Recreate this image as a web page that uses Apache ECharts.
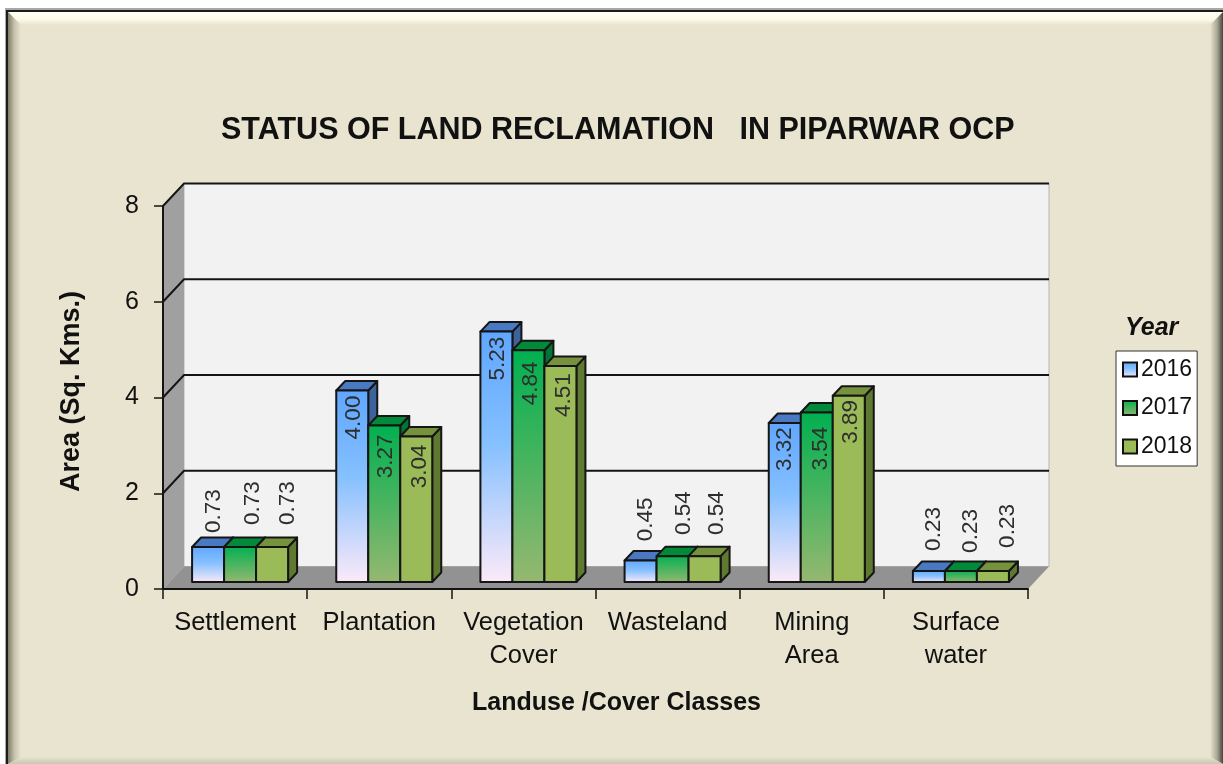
<!DOCTYPE html>
<html><head><meta charset="utf-8">
<style>html,body{margin:0;padding:0;background:#fff}#c{width:1223px;height:764px}</style>
<script src="https://cdn.jsdelivr.net/npm/echarts@6/dist/echarts.min.js"></script>
</head><body><div id="c"></div>
<script>
const categories = ['Settlement','Plantation','Vegetation\nCover','Wasteland','Mining\nArea','Surface\nwater'];
const years = ['2016','2017','2018'];
const values2016 = [0.73,4.00,5.23,0.45,3.32,0.23];
const values2017 = [0.73,3.27,4.84,0.54,3.54,0.23];
const values2018 = [0.73,3.04,4.51,0.54,3.89,0.23];
const yTicks = [0,2,4,6,8];
const valueLists = [values2016,values2017,values2018];

const FONT = '"Liberation Sans", Arial, sans-serif';
const DX = 21, DY = 22.5;          // chart depth
const BAR_W = 32, FLOOR_UP = 7, GROUP_SHIFT = -43;
const SDX = 9, SDY = 9.5;          // bar depth
const grad = (stops) => new echarts.graphic.LinearGradient(0,0,0,1,stops);
const looks = [
 {front:[{offset:0,color:'#5fa6ff'},{offset:.45,color:'#85c0ff'},{offset:1,color:'#fdeaf8'}], top:'#4a79c4', side:'#3d639f'},
 {front:[{offset:0,color:'#00b050'},{offset:1,color:'#96b870'}], top:'#008a3a', side:'#007434'},
 {front:[{offset:0,color:'#9bbb59'},{offset:1,color:'#9bbb59'}], top:'#76923c', side:'#5f7a30'}
];
// label placement relative to the bar it belongs to: [dx, dy from bar top]
const labelNudge = [
 [[4,-36],[11,-44],[14,-44]],
 [[0,27],[0,31],[2,30]],
 [[0,27],[1,33],[2,29]],
 [[4,-41],[10,-43],[11,-43]],
 [[-1,26],[3,36],[1,26]],
 [[3,-42],[8,-40],[13,-45]]
];

function renderBar(s){
  return function(params, api){
    const i = api.value(0), v = api.value(1);
    const base = api.coord([i,0]), tip = api.coord([i,v]);
    const x = base[0] + GROUP_SHIFT + s*BAR_W, b = base[1]-FLOOR_UP, t = tip[1]-FLOOR_UP;
    const L = looks[s], st = {stroke:'#151515', lineWidth:2, lineJoin:'round'};
    const n = labelNudge[i][s];
    return {type:'group', children:[
      {type:'polygon', shape:{points:[[x+BAR_W,t],[x+BAR_W+SDX,t-SDY],[x+BAR_W+SDX,b-SDY],[x+BAR_W,b]]}, style:Object.assign({fill:L.side},st)},
      {type:'polygon', shape:{points:[[x,t],[x+SDX,t-SDY],[x+BAR_W+SDX,t-SDY],[x+BAR_W,t]]}, style:Object.assign({fill:L.top},st)},
      {type:'rect', shape:{x:x,y:t,width:BAR_W,height:b-t}, style:Object.assign({fill:grad(L.front)},st)},
      {type:'text', x:x+BAR_W/2+n[0]+1.5, y:t+n[1], rotation:Math.PI/2, z2:50,
       style:{text:v.toFixed(2), font:'22.5px '+FONT, fill:'#2e2e2e', textAlign:'center', textVerticalAlign:'middle'}}
    ]};
  };
}
function renderWalls(params){
  const c = params.coordSys, x0=c.x, x1=c.x+c.width, yT=c.y, yB=c.y+c.height;
  return {type:'group', children:[
    {type:'polygon', shape:{points:[[x0+DX,yT-DY],[x1+DX,yT-DY],[x1+DX,yB-DY],[x0+DX,yB-DY]]}, style:{fill:'#f2f2f2',stroke:'#b5b5b5',lineWidth:1}},
    {type:'polygon', shape:{points:[[x0,yT],[x0+DX,yT-DY],[x0+DX,yB-DY],[x0,yB]]}, style:{fill:'#a0a0a0'}},
    {type:'polygon', shape:{points:[[x0,yB],[x0+DX,yB-DY],[x1+DX,yB-DY],[x1,yB]]}, style:{fill:'#929292'}}
  ]};
}
function renderGridLine(params, api){
  const v = api.value(1), p = api.coord([0,v]), c = params.coordSys;
  const x0=c.x, x1=c.x+c.width, y=p[1];
  const st={stroke:'#141414',lineWidth:2};
  return {type:'group', children:[
    {type:'polyline', shape:{points:[[x0,y],[x0+DX,y-DY],[x1+DX,y-DY]]}, style:Object.assign({fill:null},st)}
  ]};
}
const barSeries = years.map((y,s)=>({
  name:y, type:'custom', renderItem:renderBar(s), z:4, silent:true,
  encode:{x:0,y:1},
  data:valueLists[s].map((v,i)=>[i,v]),
  itemStyle:{color:grad(looks[s].front), borderColor:'#111', borderWidth:2}
}));

const W=1223,H=764,L=6,T=10,BG='#e9e4cf';
const chart = echarts.init(document.getElementById('c'),null,{renderer:'canvas'});
chart.setOption({
  animation:false,
  backgroundColor:'#ffffff',
  title:{text:'STATUS OF LAND RECLAMATION   IN PIPARWAR OCP', left:216, top:110,
    textStyle:{fontFamily:FONT,fontWeight:'bold',fontSize:30.5,color:'#111'}},
  grid:{left:163,top:206,width:865,height:383},
  legend:{orient:'vertical', left:1116, top:351, padding:[7,5,8,6], icon:'rect',
    itemWidth:14,itemHeight:14,itemGap:15.5,
    backgroundColor:'#fff',borderColor:'#333',borderWidth:1,borderRadius:0,
    selectedMode:false, data:years, textStyle:{fontFamily:FONT,fontSize:23,color:'#111',padding:[0,0,0,-1]}},
  xAxis:{type:'category',data:categories,z:5,
    axisLine:{lineStyle:{color:'#141414',width:2}},
    axisTick:{show:true,alignWithLabel:false,length:10,lineStyle:{color:'#141414',width:1.5}},
    axisLabel:{interval:0,fontFamily:FONT,fontSize:25.5,color:'#111',lineHeight:33,margin:17},
    name:'Landuse /Cover Classes',nameLocation:'middle',nameGap:102,
    nameTextStyle:{fontFamily:FONT,fontWeight:'bold',fontSize:25,color:'#111',padding:[0,0,0,42]}},
  yAxis:{type:'value',min:0,max:8,interval:2,z:5,
    axisLine:{show:true,lineStyle:{color:'#141414',width:2}},
    axisTick:{show:true,length:9,lineStyle:{color:'#141414',width:1.5}},
    axisLabel:{fontFamily:FONT,fontSize:25,color:'#111',margin:24},
    splitLine:{show:false},
    name:'Area (Sq. Kms.)',nameLocation:'middle',nameGap:78,nameRotate:90,
    nameTextStyle:{fontFamily:FONT,fontWeight:'bold',fontSize:27,color:'#111',padding:[0,0,0,12]}},
  graphic:[
    {type:'rect',z:-10,shape:{x:L-1,y:T-2,width:W,height:H},style:{fill:'#a8a8a8'}},
    {type:'rect',z:-9,shape:{x:L,y:T,width:W,height:H},style:{fill:'#1c1c18'}},
    {type:'rect',z:-8,shape:{x:L+2,y:T+2,width:W,height:H},style:{fill:BG}},
    {type:'polygon',z:-7,shape:{points:[[L+2,T+2],[W,T+2],[W-13,T+15],[L+15,T+15]]},
      style:{fill:grad([{offset:0,color:'#fffff4'},{offset:.55,color:'#fdfbe8'},{offset:1,color:BG}])}},
    {type:'polygon',z:-7,shape:{points:[[L+2,T+2],[L+15,T+15],[L+15,H-7],[L+2,H]]},
      style:{fill:new echarts.graphic.LinearGradient(0,0,1,0,[{offset:0,color:'#7f7c69'},{offset:.5,color:'#c6c2ad'},{offset:1,color:BG}])}},
    {type:'polygon',z:-7,shape:{points:[[W,T+2],[W,H],[W-13,H-7],[W-13,T+15]]},
      style:{fill:new echarts.graphic.LinearGradient(0,0,1,0,[{offset:0,color:BG},{offset:.55,color:'#a9a795'},{offset:1,color:'#454339'}])}},
    {type:'polygon',z:-7,shape:{points:[[L+15,H-7],[W-13,H-7],[W,H],[L+2,H]]},
      style:{fill:grad([{offset:0,color:BG},{offset:1,color:'#c8c5b1'}])}},
    {type:'text',z:6,x:1125,y:316,style:{text:'Year',font:'italic bold 25px '+FONT,fill:'#111'}}
  ],
  series:[
    {type:'custom',name:'walls',silent:true,z:2,renderItem:renderWalls,encode:{x:0,y:1},data:[[0,0]]},
    {type:'custom',name:'gridlines',silent:true,z:3,renderItem:renderGridLine,encode:{x:0,y:1},
      data:yTicks.filter(v=>v>0).map(v=>[0,v])}
  ].concat(barSeries)
});
</script></body></html>
